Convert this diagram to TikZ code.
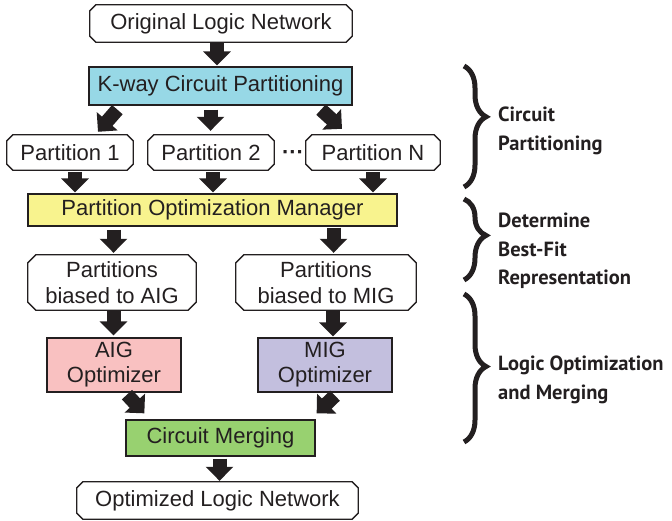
\documentclass[tikz,border=0pt]{standalone}
\usepackage{fontspec}
\setmainfont{Liberation Sans}
\newfontfamily\labfont{PT Sans}
\usetikzlibrary{arrows.meta,calc,decorations.pathreplacing}
\definecolor{ink}{HTML}{231F20}
\definecolor{kwayc}{HTML}{97D8E6}
\definecolor{pomc}{HTML}{F8F38E}
\definecolor{aigc}{HTML}{F9C1C1}
\definecolor{migc}{HTML}{C3BFDE}
\definecolor{mergec}{HTML}{98D170}
\newcommand\octbox[2][6]{%
  \draw[ink,line width=1.3pt]
    ($(#2.north west)+(#1,0)$) -- ($(#2.north east)+(-#1,0)$) --
    ($(#2.north east)+(0,#1)$) -- ($(#2.south east)+(0,-#1)$) --
    ($(#2.south east)+(-#1,0)$) -- ($(#2.south west)+(#1,0)$) --
    ($(#2.south west)+(0,-#1)$) -- ($(#2.north west)+(0,#1)$) -- cycle;}
\begin{document}
\begin{tikzpicture}[x=1pt,y=-1pt,
  txt/.style={text=ink,font=\fontsize{22}{26}\selectfont,inner sep=0pt,align=center},
  rbox/.style={txt,draw=ink,line width=1.3pt},
  obox/.style={txt},
  blk/.style={draw=ink,line width=14pt,-{Triangle[width=27pt,length=14pt]}},
  brc/.style={draw=ink,line width=5pt,decorate,decoration={brace,amplitude=22pt,aspect=#1}},
  lab/.style={text=ink,font=\labfont\bfseries\fontsize{20.5}{28.5}\selectfont,inner sep=0pt,align=left,anchor=west}]
\useasboundingbox (0,0) rectangle (672,521);

\node[obox,minimum width=262,minimum height=37] (orig) at (221,23.5) {Original Logic Network};
\octbox{orig}
\node[rbox,fill=kwayc,minimum width=263,minimum height=38] (kway) at (220.5,86) {K-way Circuit Partitioning};
\node[obox,minimum width=126,minimum height=35] (p1) at (70,152.5) {Partition 1};
\octbox{p1}
\node[obox,minimum width=126,minimum height=35] (p2) at (211,152.5) {Partition 2};
\octbox{p2}
\node[obox,minimum width=134,minimum height=35] (pN) at (373,152.5) {Partition N};
\octbox{pN}
\node[txt,font=\fontsize{22}{26}\selectfont\bfseries] (dots) at (293,155) {···};
\node[rbox,fill=pomc,minimum width=369,minimum height=32] (pom) at (212.5,210) {Partition Optimization Manager};
\node[obox,minimum width=168,minimum height=55] (aigp) at (112,282.5) {Partitions\\biased to AIG};
\octbox[8]{aigp}
\node[obox,minimum width=180,minimum height=55] (migp) at (326,282.5) {Partitions\\biased to MIG};
\octbox[8]{migp}
\node[rbox,fill=aigc,minimum width=134,minimum height=54,font=\fontsize{22}{25}\selectfont] (aigo) at (114,365) {AIG\\Optimizer};
\node[rbox,fill=migc,minimum width=134,minimum height=54,font=\fontsize{22}{25}\selectfont] (migo) at (325,365) {MIG\\Optimizer};
\node[rbox,fill=mergec,minimum width=189,minimum height=36] (merge) at (220.5,438) {Circuit Merging};
\node[obox,minimum width=281,minimum height=37] (opt) at (217.5,500.5) {Optimized Logic Network};
\octbox{opt}

% block arrows
\draw[blk] ($(orig.south)+(-4,0)$) -- ($(kway.north)+(-3.5,-1)$);
\draw[blk] ($(kway.south west)+(29,4)$) -- ($(p1.north)+(28,-3)$);
\draw[blk] ($(kway.south)+(-10,4)$) -- ($(p2.north)+(-0.5,-4)$);
\draw[blk] ($(kway.south)+(100.5,4)$) -- ($(pN.north)+(-31,-6)$);
\draw[blk] ($(p1.south)+(5,2)$) -- ($(pom.north)+(-137.5,-1)$);
\draw[blk] ($(p2.south)+(2,2)$) -- ($(pom.north)+(0.5,-1)$);
\draw[blk] ($(pN.south)+(0,2)$) -- ($(pom.north)+(160.5,-1)$);
\draw[blk] ($(pom.south)+(-99,3)$) -- ($(aigp.north)+(1.5,-2)$);
\draw[blk] ($(pom.south)+(121,1)$) -- ($(migp.north)+(7.5,-2)$);
\draw[blk] ($(aigp.south)+(1.5,1)$) -- ($(aigo.north)+(-0.5,-2)$);
\draw[blk] ($(migp.south)+(7,0)$) -- ($(migo.north)+(8,-1)$);
\draw[blk] ($(aigo.south)+(13,2)$) -- ($(merge.north west)+(19,-6)$);
\draw[blk] ($(migo.south)+(10,3)$) -- ($(merge.north east)+(1,-6)$);
\draw[blk] ($(merge.south)+(-1,2)$) -- ($(opt.north)+(2,-1)$);

% braces
\coordinate (b1t) at (464,66);  \coordinate (b1b) at (464,187);
\coordinate (b2t) at (464,199); \coordinate (b2b) at (464,280);
\coordinate (b3t) at (464,294); \coordinate (b3b) at (464,442);
\draw[brc=0.42] (b1t) -- (b1b);
\draw[brc=0.45] (b2t) -- (b2b);
\draw[brc=0.49] (b3t) -- (b3b);
\node[lab] (l1) at (498,131) {Circuit\\Partitioning};
\node[lab] (l2) at (498,251) {Determine\\Best-Fit\\Representation};
\node[lab] (l3) at (498,380) {Logic Optimization\\and Merging};
\end{tikzpicture}
\end{document}
